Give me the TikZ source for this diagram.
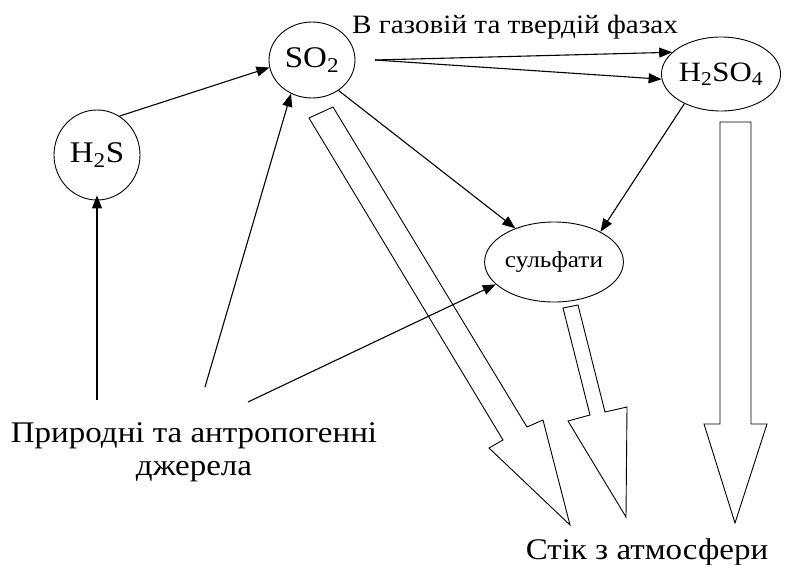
\documentclass[tikz,border=0pt]{standalone}
\usepackage{fontspec}
\setmainfont{Liberation Serif}[FakeStretch=1.1]
\usetikzlibrary{positioning,shapes.geometric,arrows.meta}

\begin{document}
\begin{tikzpicture}[x=1pt,y=-1pt,
    font=\fontsize{30}{33}\selectfont,
    spec/.style={draw,ellipse,inner sep=0pt,line width=.9pt},
    flow/.style={-{Triangle[length=13pt,width=10pt]},line width=1.1pt},
    sink/.style={draw,line width=.9pt,line join=miter}]
    \useasboundingbox (0,0) rectangle (788,565);

    \node[spec,minimum width=86pt,minimum height=76pt] (so2) at (312,60) {SO\textsubscript{2}};
    \node[spec,minimum width=86pt,minimum height=90pt] (h2s) at (97,155) {H\textsubscript{2}S};
    \node[spec,minimum width=102pt,minimum height=74pt,font=\fontsize{28}{33}\selectfont] (h2so4) at (721,74) {H\textsubscript{2}SO\textsubscript{4}};
    \node[spec,minimum width=128pt,minimum height=80pt,font=\fontsize{23}{28}\selectfont] (sulf) at (554,262) {сульфати};

    \node[anchor=base,font=\fontsize{26.5}{30}\selectfont] (phase) at (515,33) {В газовій та твердій фазах};
    \node[align=center] (src) at (194,452) {Природні та антропогенні\\джерела};
    \node[anchor=base] (out) at (647,559) {Стік з атмосфери};

    \coordinate (s1) at (97,400);
    \coordinate (s2) at (205,387);
    \coordinate (s3) at (248,402);
    \coordinate (fork) at (375,60);

    \draw[flow] (s1) -- ([yshift=5pt]h2s.south);
    \draw[flow] (s2) -- (so2.238);
    \draw[flow] (s3) -- (sulf.201);
    \draw[flow] (h2s.60) -- (so2.190);
    \draw[flow] (fork) -- (h2so4.156);
    \draw[flow] (fork) -- (h2so4.185);
    \draw[flow] (so2.-49) -- (sulf.139);
    \draw[flow] (h2so4.219) -- (sulf.33);

    \draw[sink] (309,118) -- (503,440) -- (489,448) -- (570,525) -- (543,420) -- (527,427) -- (333,107) -- cycle;
    \draw[sink] (563,308) -- (590,415) -- (568,421) -- (626,517) -- (627,407) -- (605,412) -- (578,305) -- cycle;
    \draw[sink] (720,122) -- (720,424) -- (704,424) -- (735,523) -- (767,424) -- (751,424) -- (751,122) -- cycle;
\end{tikzpicture}
\end{document}
